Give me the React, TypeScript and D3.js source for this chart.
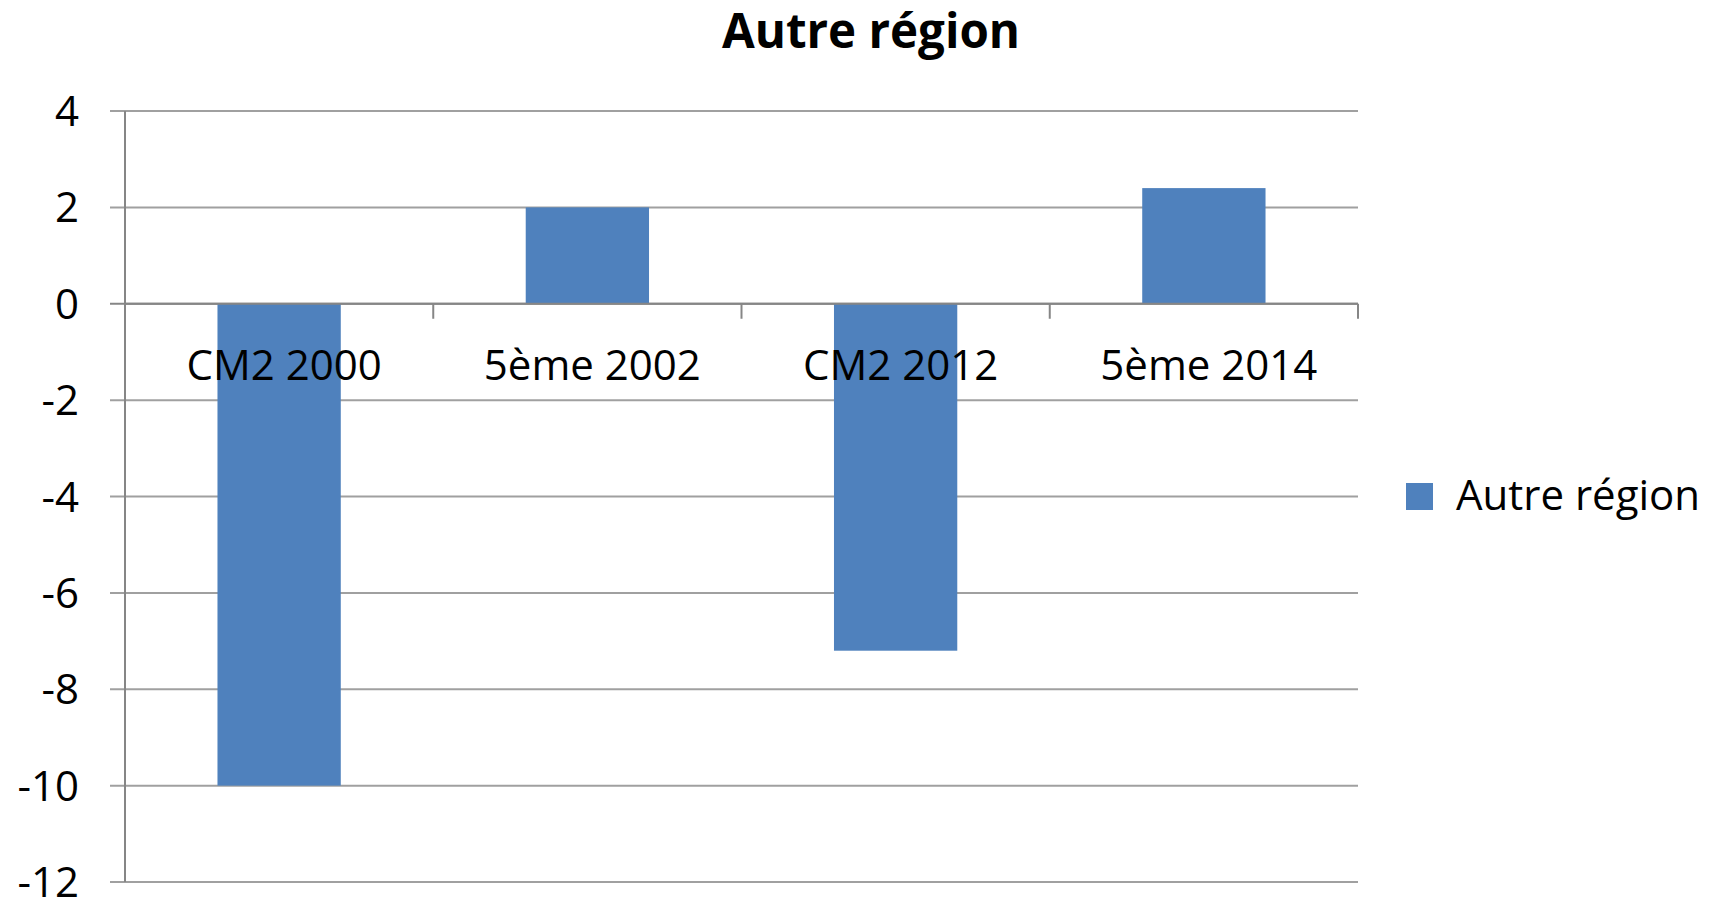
import React from "react";
import * as d3 from "d3";

const categories = ["CM2 2000", "5ème 2002", "CM2 2012", "5ème 2014"];
const values = [-10, 2, -7.2, 2.4];
const yTicks = [4, 2, 0, -2, -4, -6, -8, -10, -12];
const seriesName = "Autre région";
const title = "Autre région";

const W = 1715;
const H = 900;
const FONT = "'Open Sans', 'Noto Sans', sans-serif";

export default function App() {
  const x0 = 125;
  const x1 = 1358;
  const y = d3.scaleLinear().domain([-12, 4]).range([882, 111]);
  const x = d3
    .scaleBand<string>()
    .domain(categories)
    .range([x0, x1])
    .paddingInner(0.6)
    .paddingOuter(0.3);
  const step = (x1 - x0) / categories.length;
  const zeroY = y(0);

  return (
    <svg
      width={W}
      height={H}
      style={{ position: "absolute", left: 0, top: 0, background: "#fff" }}
    >
      <text
        x={871}
        y={48}
        textAnchor="middle"
        fontFamily={FONT}
        fontWeight={700}
        fontSize={47.5}
        fill="#000"
      >
        {title}
      </text>

      {yTicks.map((t) => (
        <g key={t}>
          <line
            x1={x0 - 15}
            x2={x1}
            y1={y(t)}
            y2={y(t)}
            stroke={t === 0 ? "#868686" : "#a0a0a0"}
            strokeWidth={2}
          />
          <text
            x={79}
            y={y(t) + 15}
            textAnchor="end"
            fontFamily={FONT}
            fontSize={42}
            fill="#000"
          >
            {t}
          </text>
        </g>
      ))}

      {values.map((v, i) => (
        <rect
          key={categories[i]}
          x={x(categories[i])}
          width={x.bandwidth()}
          y={Math.min(y(v), zeroY)}
          height={Math.abs(y(v) - zeroY)}
          fill="#4F81BD"
        />
      ))}

      <line x1={x0} x2={x0} y1={y(4)} y2={y(-12)} stroke="#868686" strokeWidth={2} />
      <line x1={x0} x2={x1} y1={zeroY} y2={zeroY} stroke="#868686" strokeWidth={2} />
      {d3.range(categories.length + 1).map((i) => (
        <line
          key={i}
          x1={x0 + i * step}
          x2={x0 + i * step}
          y1={zeroY}
          y2={zeroY + 15}
          stroke="#868686"
          strokeWidth={2}
        />
      ))}

      {categories.map((c) => (
        <text
          key={c}
          x={(x(c) as number) + x.bandwidth() / 2 + 5}
          y={380}
          textAnchor="middle"
          fontFamily={FONT}
          fontSize={42}
          fill="#000"
        >
          {c}
        </text>
      ))}

      <rect x={1406} y={483} width={27} height={27} fill="#4F81BD" />
      <text x={1456} y={510} fontFamily={FONT} fontSize={42} fill="#000">
        {seriesName}
      </text>
    </svg>
  );
}
